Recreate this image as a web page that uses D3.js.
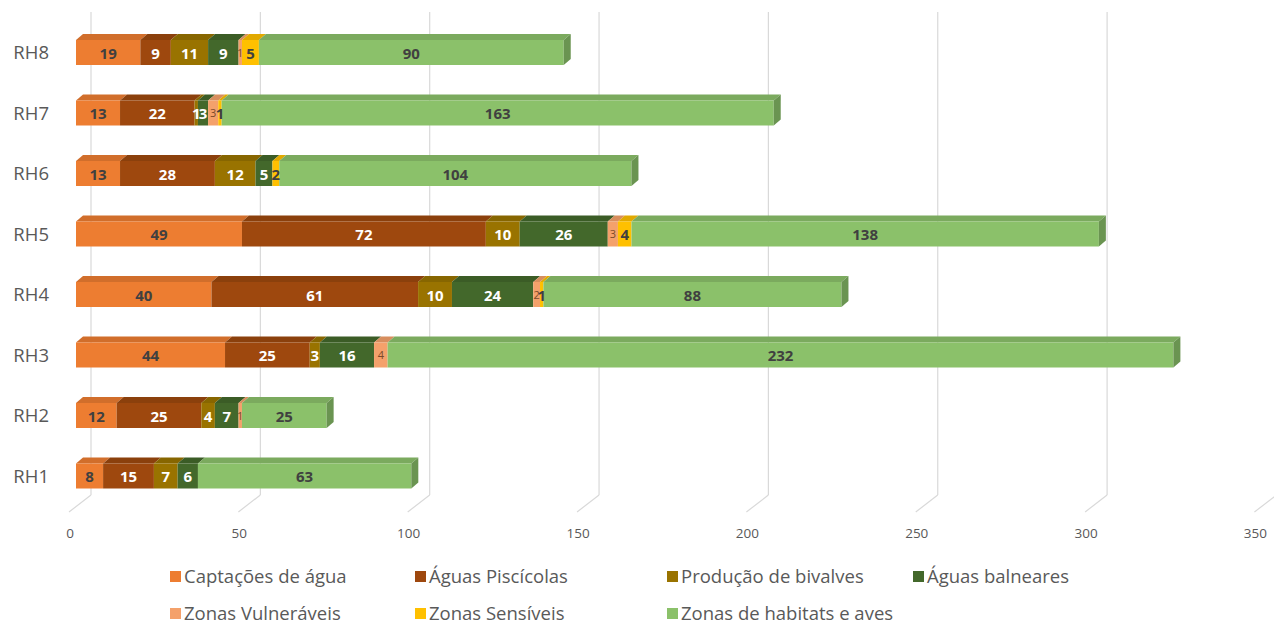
<!DOCTYPE html>
<html>
<head>
<meta charset="utf-8">
<script src="https://cdn.jsdelivr.net/npm/d3@7"></script>
<style>
  body { margin: 0; background: #fff; }
  svg text { font-family: 'Open Sans', sans-serif; }
</style>
</head>
<body>
<div id="chart"></div>
<script>
// data (bottom row first)
var categories = ['RH1','RH2','RH3','RH4','RH5','RH6','RH7','RH8'];
var captacoes   = [8, 12, 44, 40, 49, 13, 13, 19];
var piscicolas  = [15, 25, 25, 61, 72, 28, 22, 9];
var bivalves    = [7, 4, 3, 10, 10, 12, 1, 11];
var balneares   = [6, 7, 16, 24, 26, 5, 3, 9];
var vulneraveis = [0, 1, 4, 2, 3, 0, 3, 1];
var sensiveis   = [0, 0, 0, 1, 4, 2, 1, 5];
var habitats    = [63, 25, 232, 88, 138, 104, 163, 90];
var seriesNames = ['Captações de água','Águas Piscícolas','Produção de bivalves','Águas balneares',
                   'Zonas Vulneráveis','Zonas Sensíveis','Zonas de habitats e aves'];
var ticks = [0, 50, 100, 150, 200, 250, 300, 350];

var series = [captacoes, piscicolas, bivalves, balneares, vulneraveis, sensiveis, habitats];
var colors = ['#ED7D31','#9E480E','#997300','#43682B','#F4A16B','#FFC000','#8BC16A'];
var labelColors = ['#404040','#fff','#fff','#fff','#7a4a2a','#404040','#404040'];

var W = 1274, H = 626;
var svg = d3.select('#chart').append('svg').attr('width', W).attr('height', H);

// 3d offsets
var dx = 7, dy = -6;           // bar depth
var fx = -22, fy = 17;         // floor depth (back -> front)
var xBack0 = 91, xBar0 = 76, floorY = 495, gridTop = 12;

var x = d3.scaleLinear().domain([0, 350]).range([0, 350 * 3.387]);
var y = d3.scalePoint().domain(categories.slice().reverse()).range([52.5, 476]);
var barH = 25;

// gridlines + floor diagonals
var grid = svg.append('g');
ticks.forEach(function(t){
  var xb = xBack0 + x(t);
  grid.append('line').attr('x1', xb).attr('x2', xb).attr('y1', gridTop).attr('y2', floorY)
    .attr('stroke', '#d9d9d9').attr('stroke-width', 1.2);
  grid.append('line').attr('x1', xb).attr('y1', floorY).attr('x2', xb + fx).attr('y2', floorY + fy)
    .attr('stroke', '#d9d9d9').attr('stroke-width', 1.2);
  grid.append('text').attr('x', xb + fx + 1).attr('y', 538)
    .attr('text-anchor', 'middle').attr('font-size', 13.5).attr('fill', '#595959').text(t);
});

// category labels
svg.append('g').selectAll('text').data(categories).enter().append('text')
  .attr('x', 49).attr('y', function(d){ return y(d) + 6.5; })
  .attr('text-anchor', 'end').attr('font-size', 18.5).attr('fill', '#595959')
  .text(function(d){ return d; });

// bars
var bars = svg.append('g');
var labels = svg.append('g');
categories.forEach(function(cat, i){
  var yt = y(cat) - barH / 2, yb = yt + barH;
  var cum = 0;
  var last = -1;
  series.forEach(function(s, k){ if (s[i] > 0) last = k; });
  series.forEach(function(s, k){
    var v = s[i];
    if (!v) return;
    var x0 = xBar0 + x(cum), x1 = xBar0 + x(cum + v);
    cum += v;
    var c = d3.color(colors[k]);
    bars.append('path')
      .attr('d', 'M' + x0 + ',' + yt + 'L' + x1 + ',' + yt + 'L' + (x1 + dx) + ',' + (yt + dy) +
                 'L' + (x0 + dx) + ',' + (yt + dy) + 'Z')
      .attr('fill', c.darker(0.35));
    bars.append('rect').attr('x', x0).attr('y', yt).attr('width', x1 - x0).attr('height', barH)
      .attr('fill', colors[k]);
    if (k === last) {
      bars.append('path')
        .attr('d', 'M' + x1 + ',' + yt + 'L' + (x1 + dx) + ',' + (yt + dy) + 'L' + (x1 + dx) + ',' + (yb + dy) +
                   'L' + x1 + ',' + yb + 'Z')
        .attr('fill', c.darker(0.75));
    }
    var small = (k === 4);
    labels.append('text').attr('x', (x0 + x1) / 2).attr('y', y(cat) + (small ? 4 : 6))
      .attr('text-anchor', 'middle')
      .attr('font-size', small ? 11 : 15)
      .attr('font-weight', small ? 'normal' : 'bold')
      .attr('fill', labelColors[k]).text(v);
  });
});

// legend
var legPos = [[170,577],[415,577],[667,577],[913,577],[170,614],[415,614],[667,614]];
var leg = svg.append('g');
seriesNames.forEach(function(n, k){
  var p = legPos[k];
  leg.append('rect').attr('x', p[0]).attr('y', p[1] - 6).attr('width', 11).attr('height', 11).attr('fill', colors[k]);
  leg.append('text').attr('x', p[0] + 14).attr('y', p[1] + 6).attr('font-size', 18.5)
    .attr('fill', '#595959').text(n);
});
</script>
</body>
</html>
